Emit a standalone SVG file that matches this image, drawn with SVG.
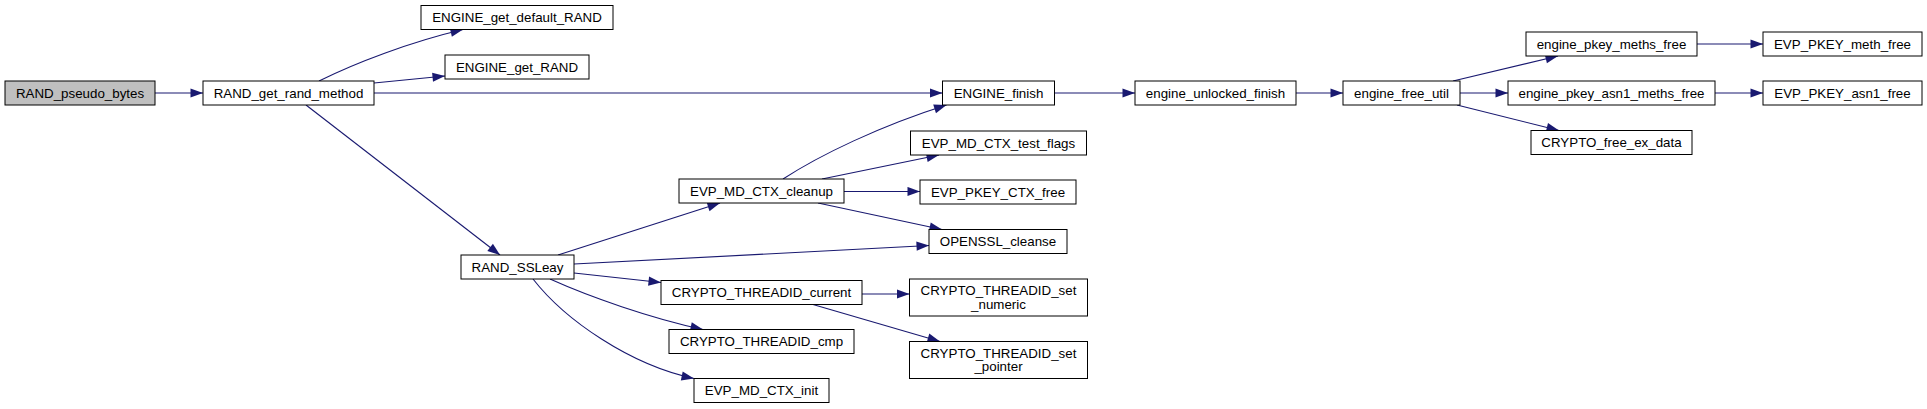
<svg xmlns="http://www.w3.org/2000/svg" width="1927" height="409" viewBox="0 0 1927 409">
<style>
.n rect{fill:#ffffff;stroke:#000000;stroke-width:1}
.n.root rect{fill:#bfbfbf}
.n text{font-family:"Liberation Sans",Arial,Helvetica,sans-serif;font-size:13.33px;fill:#000000;text-anchor:middle}
.e path{fill:none;stroke:#191970;stroke-width:1.1;marker-end:url(#arr)}
</style>
<defs>
<marker id="arr" markerUnits="userSpaceOnUse" markerWidth="14" markerHeight="11" refX="13" refY="5" orient="auto">
<path d="M0.5,0.4 L13,5 L0.5,9.6 Z" fill="#191970" stroke="none"/>
</marker>
</defs>
<rect width="1927" height="409" fill="#ffffff"/>
<g id="connectors" class="e">
<path d="M155,93 L203,93"/>
<path d="M319,81 C355,63 410,42 463,29.5"/>
<path d="M374,83 L445,76"/>
<path d="M374,93 L942.5,93"/>
<path d="M306,105 L500,255"/>
<path d="M783,179 C820,155 880,126 946.5,105"/>
<path d="M822,179 L939,155"/>
<path d="M844,191.5 L920,191.5"/>
<path d="M818,203 L942,229.5"/>
<path d="M558,255 L720,203"/>
<path d="M574,264 L929,245.5"/>
<path d="M574,273 L661,282.5"/>
<path d="M550,279 C590,297 650,318 703,329.5"/>
<path d="M533,279 C565,320 630,365 694,378.5"/>
<path d="M862,294 L909.5,294"/>
<path d="M813,304.5 L940,341.5"/>
<path d="M1054.5,93 L1135,93"/>
<path d="M1296,93 L1343,93"/>
<path d="M1453,81 L1558,56"/>
<path d="M1460,93 L1508,93"/>
<path d="M1457,105 L1559,130.5"/>
<path d="M1697,44 L1763,44"/>
<path d="M1715,93 L1763,93"/>
</g>
<g id="RAND_pseudo_bytes" class="n root"><rect x="5" y="81" width="150" height="24"/><text x="80" y="97.5">RAND_pseudo_bytes</text></g>
<g id="RAND_get_rand_method" class="n"><rect x="203" y="81" width="171" height="24"/><text x="288.5" y="97.5">RAND_get_rand_method</text></g>
<g id="ENGINE_get_default_RAND" class="n"><rect x="421" y="5.5" width="192" height="24"/><text x="517" y="22">ENGINE_get_default_RAND</text></g>
<g id="ENGINE_get_RAND" class="n"><rect x="445" y="55" width="144" height="24"/><text x="517" y="71.5">ENGINE_get_RAND</text></g>
<g id="ENGINE_finish" class="n"><rect x="942.5" y="81" width="112" height="24"/><text x="998.5" y="97.5">ENGINE_finish</text></g>
<g id="engine_unlocked_finish" class="n"><rect x="1135" y="81" width="161" height="24"/><text x="1215.5" y="97.5">engine_unlocked_finish</text></g>
<g id="engine_free_util" class="n"><rect x="1343" y="81" width="117" height="24"/><text x="1401.5" y="97.5">engine_free_util</text></g>
<g id="engine_pkey_meths_free" class="n"><rect x="1526" y="32" width="171" height="24"/><text x="1611.5" y="48.5">engine_pkey_meths_free</text></g>
<g id="engine_pkey_asn1_meths_free" class="n"><rect x="1508" y="81" width="207" height="24"/><text x="1611.5" y="97.5">engine_pkey_asn1_meths_free</text></g>
<g id="CRYPTO_free_ex_data" class="n"><rect x="1531" y="130.5" width="161" height="24"/><text x="1611.5" y="147">CRYPTO_free_ex_data</text></g>
<g id="EVP_PKEY_meth_free" class="n"><rect x="1763" y="32" width="159" height="24"/><text x="1842.5" y="48.5">EVP_PKEY_meth_free</text></g>
<g id="EVP_PKEY_asn1_free" class="n"><rect x="1763" y="81" width="159" height="24"/><text x="1842.5" y="97.5">EVP_PKEY_asn1_free</text></g>
<g id="RAND_SSLeay" class="n"><rect x="461" y="255" width="113" height="24"/><text x="517.5" y="271.5">RAND_SSLeay</text></g>
<g id="EVP_MD_CTX_cleanup" class="n"><rect x="679" y="179" width="165" height="24"/><text x="761.5" y="195.5">EVP_MD_CTX_cleanup</text></g>
<g id="CRYPTO_THREADID_current" class="n"><rect x="661" y="280.5" width="201" height="24"/><text x="761.5" y="297">CRYPTO_THREADID_current</text></g>
<g id="CRYPTO_THREADID_cmp" class="n"><rect x="669" y="329.5" width="185" height="24"/><text x="761.5" y="346">CRYPTO_THREADID_cmp</text></g>
<g id="EVP_MD_CTX_init" class="n"><rect x="694" y="378.5" width="135" height="24"/><text x="761.5" y="395">EVP_MD_CTX_init</text></g>
<g id="EVP_MD_CTX_test_flags" class="n"><rect x="910.5" y="131" width="176" height="24"/><text x="998.5" y="147.5">EVP_MD_CTX_test_flags</text></g>
<g id="EVP_PKEY_CTX_free" class="n"><rect x="920" y="180" width="156" height="24"/><text x="998" y="196.5">EVP_PKEY_CTX_free</text></g>
<g id="OPENSSL_cleanse" class="n"><rect x="929" y="229.5" width="138" height="24"/><text x="998" y="246">OPENSSL_cleanse</text></g>
<g id="CRYPTO_THREADID_set_numeric" class="n"><rect x="909.5" y="279" width="178" height="37"/><text x="998.5" y="295">CRYPTO_THREADID_set</text><text x="998.5" y="308.5">_numeric</text></g>
<g id="CRYPTO_THREADID_set_pointer" class="n"><rect x="909.5" y="341.5" width="178" height="37"/><text x="998.5" y="357.5">CRYPTO_THREADID_set</text><text x="998.5" y="371">_pointer</text></g>
</svg>
